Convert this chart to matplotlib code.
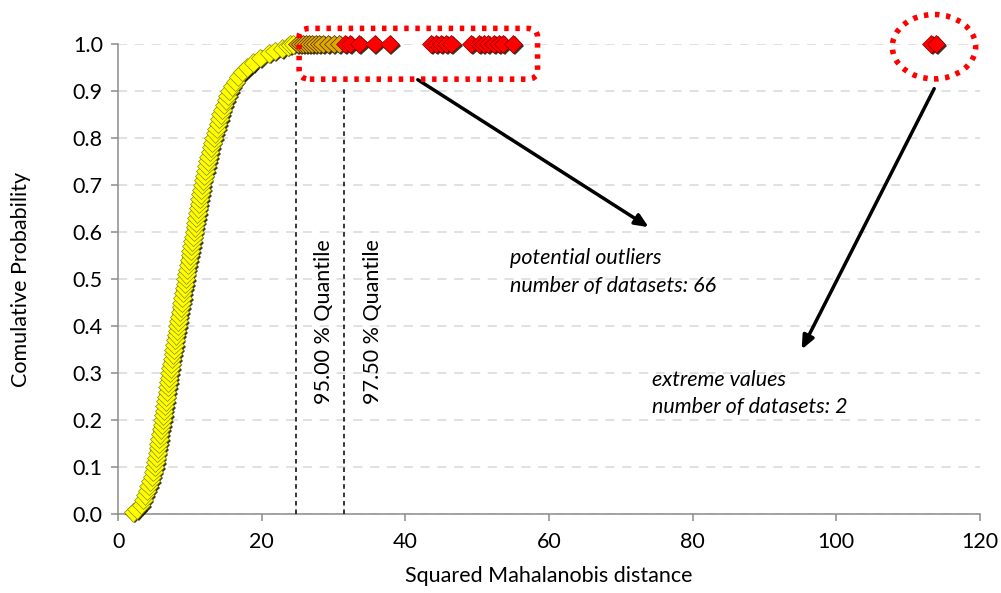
import numpy as np
import matplotlib.pyplot as plt
import matplotlib.patheffects as pe
from matplotlib.patches import FancyBboxPatch, Ellipse

plt.rcParams['font.family'] = ['Lato', 'DejaVu Sans']

# kumulatywna krzywa - punkty ponizej kwantyla 95 %
cdf_y = [0.004, 0.01, 0.02, 0.03, 0.04, 0.05, 0.06, 0.07, 0.08, 0.09,
         0.10, 0.11, 0.12, 0.13, 0.14, 0.15, 0.16, 0.17, 0.18, 0.19,
         0.20, 0.21, 0.22, 0.23, 0.24, 0.25, 0.26, 0.27, 0.28, 0.29,
         0.30, 0.31, 0.32, 0.33, 0.34, 0.35, 0.36, 0.37, 0.38, 0.39,
         0.40, 0.41, 0.42, 0.43, 0.44, 0.45, 0.46, 0.47, 0.48, 0.49,
         0.50, 0.51, 0.52, 0.53, 0.54, 0.55, 0.56, 0.57, 0.58, 0.59,
         0.60, 0.61, 0.62, 0.63, 0.64, 0.65, 0.66, 0.67, 0.68, 0.69,
         0.70, 0.71, 0.72, 0.73, 0.74, 0.75, 0.76, 0.77, 0.78, 0.79,
         0.80, 0.81, 0.82, 0.83, 0.84, 0.85, 0.86, 0.87, 0.88, 0.89,
         0.90, 0.91, 0.92, 0.93, 0.94, 0.95, 0.96, 0.97, 0.98, 0.985,
         0.99, 0.995, 0.998, 0.999]
cdf_x = [2.05, 2.6, 3.2, 3.5, 3.75, 4.0, 4.25, 4.5, 4.7, 4.9,
         5.1, 5.2, 5.3, 5.45, 5.55, 5.65, 5.75, 5.85, 5.95, 6.1,
         6.2, 6.3, 6.4, 6.5, 6.6, 6.7, 6.8, 6.9, 7.0, 7.1,
         7.2, 7.3, 7.4, 7.5, 7.65, 7.75, 7.85, 7.95, 8.05, 8.2,
         8.3, 8.4, 8.5, 8.6, 8.75, 8.85, 8.95, 9.05, 9.15, 9.3,
         9.4, 9.5, 9.6, 9.75, 9.85, 10.0, 10.1, 10.2, 10.35, 10.45,
         10.6, 10.7, 10.8, 10.9, 11.05, 11.15, 11.25, 11.35, 11.5, 11.6,
         11.7, 11.85, 12.0, 12.15, 12.3, 12.45, 12.6, 12.8, 12.95, 13.1,
         13.3, 13.5, 13.7, 13.9, 14.1, 14.3, 14.5, 14.75, 15.0, 15.25,
         15.5, 15.9, 16.3, 16.7, 17.3, 18.0, 18.8, 19.8, 21.0, 21.8,
         22.8, 23.6, 24.0, 24.4]

# punkty miedzy kwantylami 95 % i 97.5 %
mid_x = [25.0, 25.4, 25.8, 26.2, 26.6, 27.0, 27.5, 28.0, 28.5, 29.2, 30.0, 30.8]
mid_y = [1.0] * len(mid_x)

# potencjalne odstajace + wartosci ekstremalne
out_x = [31.6, 32.3, 33.6, 35.7, 37.8, 43.6, 44.3, 45.0, 45.7, 46.4,
         49.2, 50.3, 50.9, 51.5, 52.3, 53.0, 53.6, 55.0, 113.2, 113.9]
out_y = [1.0] * len(out_x)

q95 = 24.8
q975 = 31.5

fs = 15.5

fig = plt.figure(figsize=(10.01, 5.93), dpi=100)
ax = fig.add_axes([0.118, 0.133, 0.861, 0.793])

# cien pod markerami (jak w Excelu)
shadow = [pe.SimplePatchShadow(offset=(1.3, -1.3), shadow_rgbFace='#141400', alpha=0.85),
          pe.Normal()]
ax.plot(cdf_x, cdf_y, linestyle='none', marker='D', ms=9.5, mfc='#ffff00',
        mec='#8a8a00', mew=0.5, clip_on=False, zorder=4, path_effects=shadow)
ax.plot(mid_x, mid_y, linestyle='none', marker='D', ms=9.5, mfc='#e0a800',
        mec='#4a3000', mew=0.5, clip_on=False, zorder=4, path_effects=shadow)
ax.plot(out_x, out_y, linestyle='none', marker='D', ms=9.5, mfc='#ff0000',
        mec='#8a0000', mew=0.5, clip_on=False, zorder=4, path_effects=shadow)

# linie kwantyli
ax.plot([q95, q95], [0, 0.92], color='black', lw=1.1, ls=(0, (3, 2.5)), zorder=3)
ax.plot([q975, q975], [0, 0.91], color='black', lw=1.1, ls=(0, (3, 2.5)), zorder=3)
ax.text(q95 + 3.8, 0.41, '95.00 % Quantile', rotation=90, ha='center', va='center', fontsize=fs)
ax.text(q975 + 4.0, 0.41, '97.50 % Quantile', rotation=90, ha='center', va='center', fontsize=fs)

# zaznaczenia
box = FancyBboxPatch((25.2, 0.925), 33.2, 0.108, boxstyle='round,pad=0,rounding_size=1.5',
                     fill=False, ec='#ff0000', lw=4, ls=(0, (0.8, 1.2)),
                     clip_on=False, zorder=5, mutation_aspect=0.012)
ax.add_patch(box)
ell = Ellipse((113.6, 0.994), 11.6, 0.137, fill=False, ec='#ff0000', lw=4,
              ls=(0, (0.8, 1.2)), clip_on=False, zorder=5)
ax.add_patch(ell)

ax.annotate('', xy=(74.2, 0.607), xytext=(41.4, 0.927),
            arrowprops=dict(arrowstyle='-|>,head_length=0.8,head_width=0.35', color='black', lw=2.5))
ax.annotate('', xy=(95.0, 0.345), xytext=(113.8, 0.91),
            arrowprops=dict(arrowstyle='-|>,head_length=0.8,head_width=0.35', color='black', lw=2.5))

ax.text(54.5, 0.515, 'potential outliers\nnumber of datasets: 66', fontsize=fs,
        style='italic', ha='left', va='center', linespacing=1.45)
ax.text(74.3, 0.256, 'extreme values\nnumber of datasets: 2', fontsize=fs,
        style='italic', ha='left', va='center', linespacing=1.45)

ax.set_xlim(0, 120)
ax.set_ylim(0, 1.0)
ax.set_xticks(np.arange(0, 121, 20))
ax.set_yticks(np.arange(0, 1.01, 0.1))
ax.set_yticklabels([f'{v:.1f}' for v in np.arange(0, 1.01, 0.1)])
ax.grid(axis='y', color='#d9d9d9', ls=(0, (6, 5)), lw=1.1)
ax.set_axisbelow(True)
for s in ['top', 'right']:
    ax.spines[s].set_visible(False)
for s in ['left', 'bottom']:
    ax.spines[s].set_color('#8c8c8c')
    ax.spines[s].set_linewidth(1.1)
ax.tick_params(colors='#8c8c8c', labelcolor='black', labelsize=fs, length=5, width=1.1)
ax.tick_params(axis='x', pad=8)
ax.tick_params(axis='y', pad=6)
ax.set_xlabel('Squared Mahalanobis distance', fontsize=fs, labelpad=10)
ax.set_ylabel('Comulative Probability', fontsize=fs, labelpad=30)

fig.savefig('out.png', dpi=100)
